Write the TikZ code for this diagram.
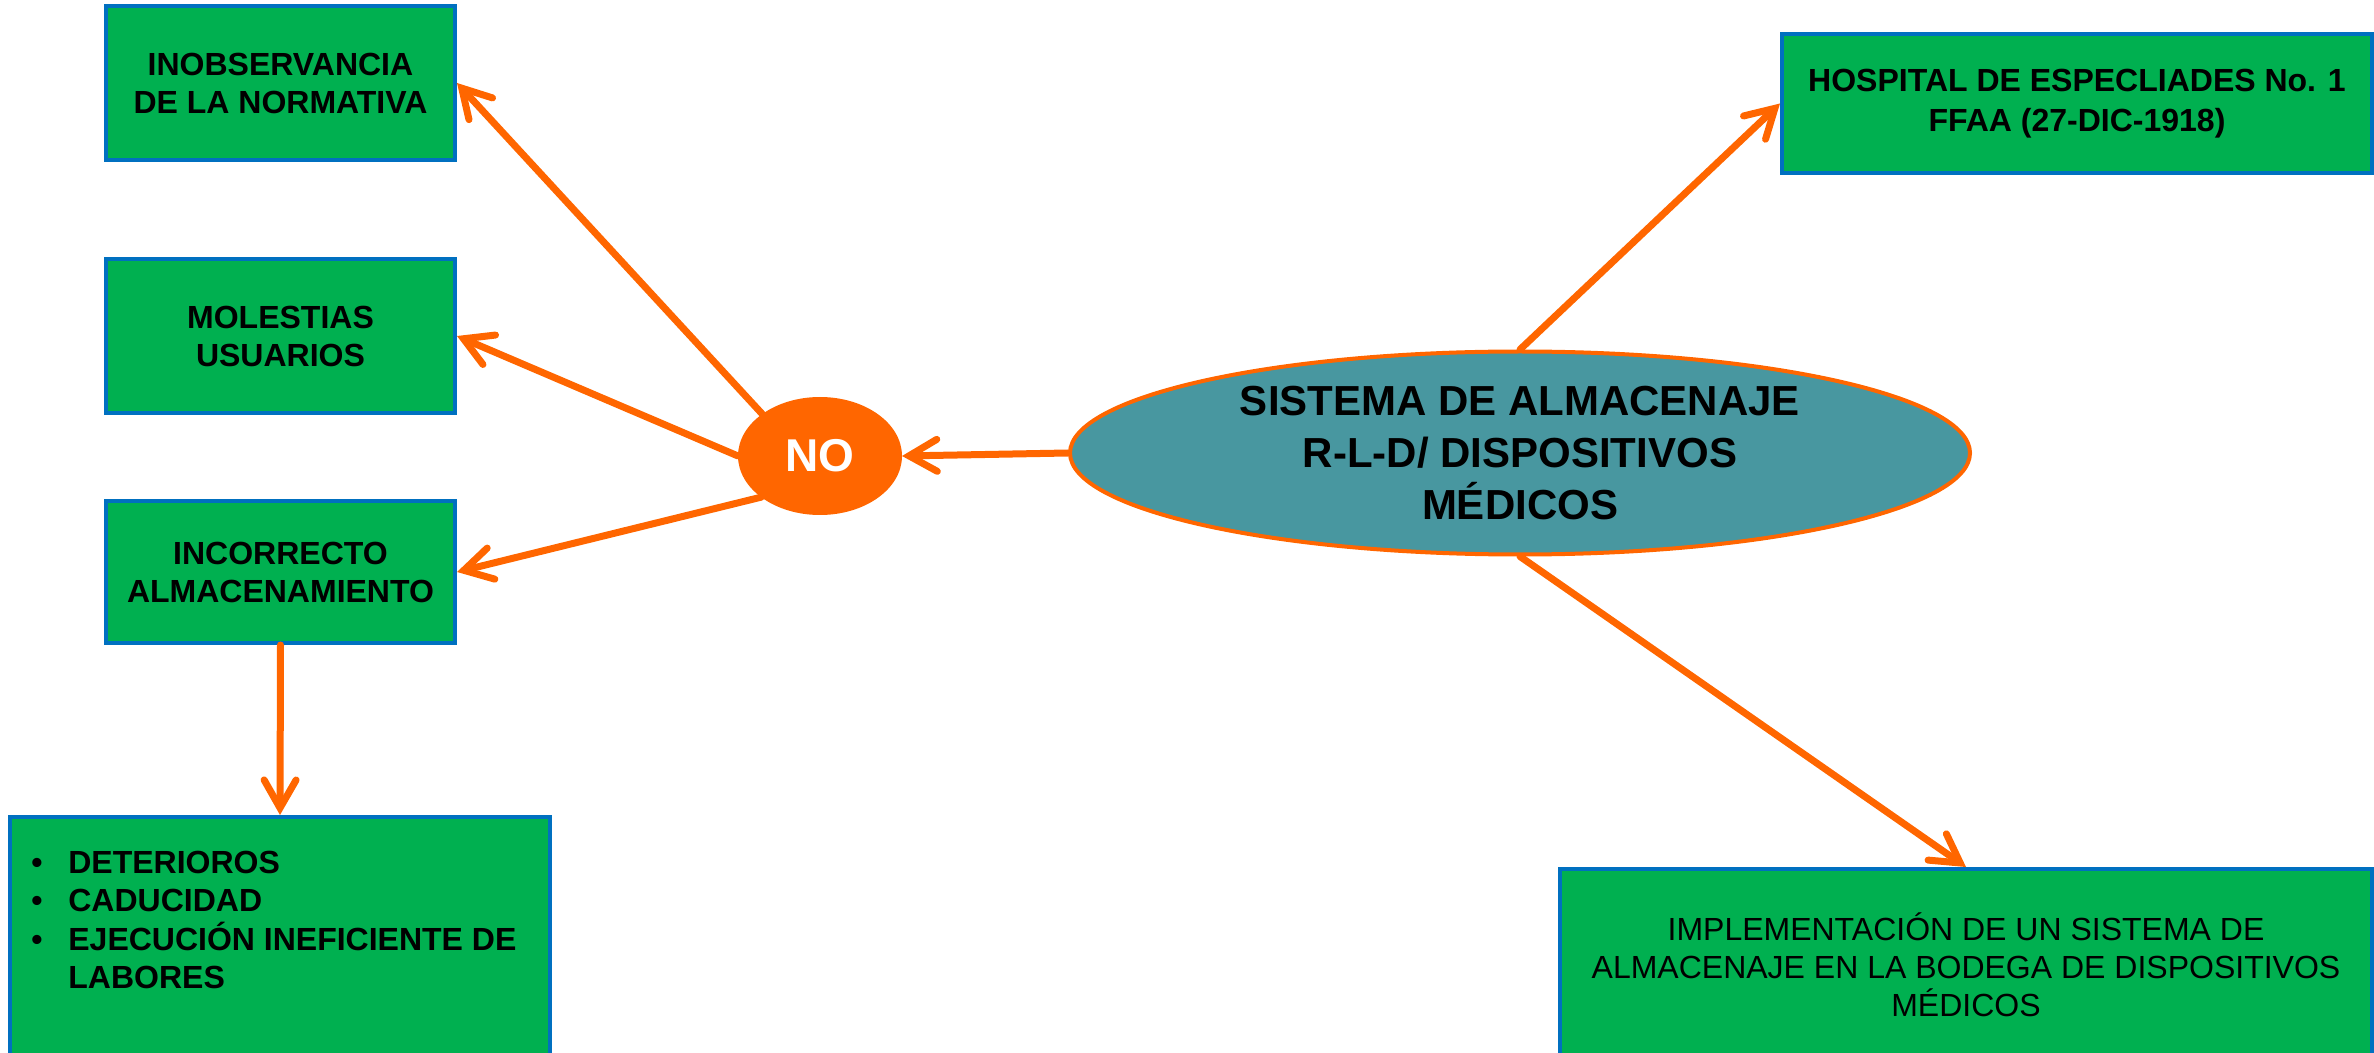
\documentclass[tikz,border=0pt]{standalone}
\usepackage{fontspec}
\setmainfont{Liberation Sans}
\usetikzlibrary{arrows.meta,shapes.geometric}
\definecolor{boxgreen}{HTML}{00B050}
\definecolor{boxblue}{HTML}{0070C0}
\definecolor{arrorange}{HTML}{FF6600}
\definecolor{centralteal}{RGB}{72,151,160}
\begin{document}
\begin{tikzpicture}[x=0.5pt,y=-0.5pt,
  greenbox/.style={draw=boxblue, line width=2pt, fill=boxgreen, rectangle, inner sep=0pt, align=center, font=\bfseries\fontsize{16}{19}\selectfont},
  conn/.style={draw=arrorange, line width=3.5pt, line cap=round, -{Straight Barb[length=14pt,width=16pt,line cap=round]}}
]
\path[use as bounding box] (0,0) rectangle (2374,1053);
\clip (0,0) rectangle (2374,1053);

\node[greenbox, minimum width=174.5pt, minimum height=77pt] (b1) at (280.5,83) {INOBSERVANCIA\\DE LA NORMATIVA};
\node[greenbox, minimum width=174.5pt, minimum height=77pt] (b2) at (280.5,336) {MOLESTIAS\\USUARIOS};
\node[greenbox, minimum width=174.5pt, minimum height=71pt] (b3) at (280.5,572) {INCORRECTO\\ALMACENAMIENTO};
\node[greenbox, minimum width=270pt, minimum height=130pt] (b4) at (280,947) {};
\node[anchor=base west, inner sep=0pt, font=\bfseries\fontsize{16}{19}\selectfont] (b4text) at (31,873)
  {\begin{tabular}[t]{@{}p{18.5pt}@{}l@{}}•&DETERIOROS\\•&CADUCIDAD\\•&EJECUCIÓN INEFICIENTE DE\\&LABORES\end{tabular}};

\node[greenbox, font=\bfseries\fontsize{16}{20}\selectfont, minimum width=295pt, minimum height=69.5pt] (hosp) at (2077,103.5) {HOSPITAL DE ESPECLIADES No. 1\\FFAA (27-DIC-1918)};
\node[greenbox, font=\fontsize{16}{19}\selectfont, minimum width=406pt, minimum height=96pt] (impl) at (1966,965) {IMPLEMENTACIÓN DE UN SISTEMA DE\\ALMACENAJE EN LA BODEGA DE DISPOSITIVOS\\MÉDICOS};

\node[ellipse, fill=arrorange, draw=arrorange, line width=1pt, minimum width=81pt, minimum height=58pt, inner sep=0pt, text=white, font=\bfseries\fontsize{23}{26}\selectfont] (no) at (820,456) {NO};
\node[ellipse, fill=centralteal, draw=arrorange, line width=2pt, minimum width=450pt, minimum height=101.5pt, inner sep=0pt, align=center, font=\bfseries\fontsize{21}{26}\selectfont] (central) at (1520,453) {SISTEMA DE ALMACENAJE\\R-L-D/ DISPOSITIVOS\\MÉDICOS};

\draw[conn] (central.west) -- (no.east);
\draw[conn] (no.144) -- (b1.east);
\draw[conn] (no.west) -- (b2.east);
\draw[conn] (no.215) -- (b3.east);
\draw[conn] (b3.south) -- (b4.north);
\draw[conn] (central.north) -- (hosp.west);
\draw[conn] (central.south) -- (impl.north);
\end{tikzpicture}
\end{document}
